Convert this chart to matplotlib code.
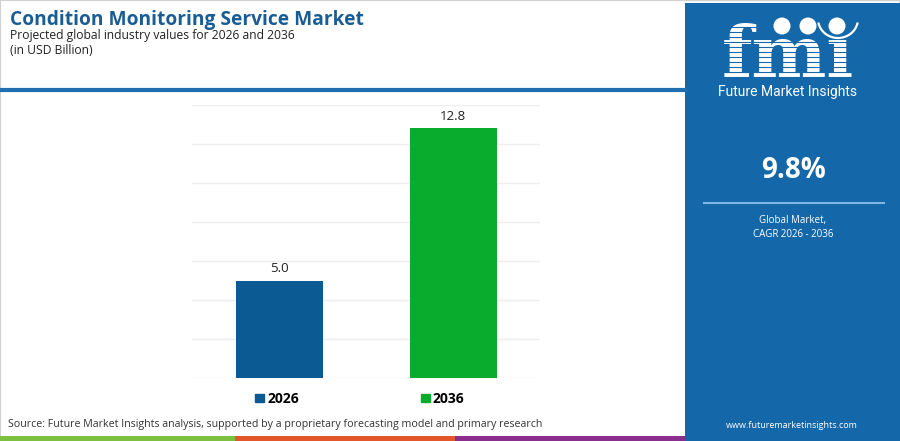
import matplotlib.pyplot as plt
from matplotlib.patches import Rectangle, Ellipse, Arc
from matplotlib.lines import Line2D

years = ["2026", "2036"]
values = [5.0, 12.8]
bar_colors = ["#0b5a94", "#0aac2e"]
title = "Condition Monitoring Service Market"
subtitle = "Projected global industry values for 2026 and 2036"
units = "(in USD Billion)"
cagr = "9.8%"
source = ("Source: Future Market Insights analysis, supported by a proprietary "
          "forecasting model and primary research")

W, H = 900, 441
PANEL = "#1467a8"

fig = plt.figure(figsize=(9, 4.41), dpi=100)
fig.patch.set_facecolor("white")


def px(x, y):
    # pixel coords (top-left origin) -> figure fraction
    return x / W, 1 - y / H


def hline(x0, x1, y, color, lw, z=2):
    fig.add_artist(Line2D([x0 / W, x1 / W], [1 - y / H] * 2,
                          transform=fig.transFigure, color=color,
                          linewidth=lw, zorder=z))


def box(x0, y0, x1, y1, color, z=1):
    fig.add_artist(Rectangle((x0 / W, 1 - y1 / H), (x1 - x0) / W, (y1 - y0) / H,
                             transform=fig.transFigure, color=color,
                             linewidth=0, zorder=z))


# frame
fig.add_artist(Rectangle((0, 0), 1, 1, transform=fig.transFigure, fill=False,
                         edgecolor="#d0d0d0", linewidth=1.5, zorder=0.5))

# header
fig.text(*px(10, 20), title, fontsize=13.8, fontweight="bold", color="#1a5c94",
         family="Open Sans", va="center", ha="left")
fig.text(*px(10, 35), subtitle, fontsize=8.7, color="#222222",
         family="Open Sans", va="center", ha="left")
fig.text(*px(10, 51), units, fontsize=8.7, color="#222222",
         family="Open Sans", va="center", ha="left")
hline(0, 685, 90, "#1f6eb0", 3)

# bottom stripes
box(0, 436, 235, 441, "#7dbf3f")
box(235, 436, 455, 441, "#e4572b")
box(455, 436, 685, 441, "#8b2f8e")
fig.text(*px(8, 425), source, fontsize=7.7, color="#333333",
         family="Open Sans", va="center", ha="left")

# right panel
box(685, 3, 900, 441, PANEL, z=1)

# logo: striped slab letters with three globes
fig.text(*px(787.5, 77), "fm\u0131", fontsize=51, fontweight="bold", color="white",
         family="DejaVu Serif", va="baseline", ha="center", zorder=3)
for i in range(11):
    hline(712, 862, 27 + i * 5.0, PANEL, 0.8, z=4)
for cx in (782, 808, 837):
    fig.add_artist(Ellipse(px(cx, 26), 17 / W, 17 / H, transform=fig.transFigure,
                           facecolor="white", edgecolor="none", zorder=5))
fig.add_artist(Arc(px(838, 19), 40 / W, 38 / H, theta1=200, theta2=340,
                   transform=fig.transFigure, color="white", linewidth=1.6,
                   zorder=5))
fig.text(*px(788, 92), "Future Market Insights", fontsize=10, color="white",
         family="Roboto", va="center", ha="center", zorder=3)

fig.text(*px(793, 171), cagr, fontsize=20, fontweight="bold", color="white",
         family="Open Sans", va="center", ha="center", zorder=3)
hline(704, 884, 203, "#7fb6e3", 1.5, z=3)
fig.text(*px(793, 221), "Global Market,", fontsize=7.0, color="white",
         family="Open Sans", va="center", ha="center", zorder=3)
fig.text(*px(793, 234), "CAGR 2026 - 2036", fontsize=7.0, color="white",
         family="Open Sans", va="center", ha="center", zorder=3)
fig.text(*px(792, 425), "www.futuremarketinsights.com", fontsize=6.5,
         color="white", family="Open Sans", va="center", ha="center", zorder=3)

# chart
ax = fig.add_axes([192 / W, 1 - 378 / H, 348 / W, 273 / H])
x = range(len(years))
bars = ax.bar(x, values, width=0.5, color=bar_colors, zorder=3)
ax.set_xlim(-0.5, 1.5)
ax.set_ylim(0, 14)
ax.set_yticks(range(0, 15, 2))
ax.grid(axis="y", color="#eeeeee", linewidth=1, zorder=0)
ax.tick_params(left=False, bottom=False, labelleft=False, labelbottom=False)
for s in ax.spines.values():
    s.set_visible(False)
for b, v in zip(bars, values):
    ax.annotate(f"{v:.1f}", (b.get_x() + b.get_width() / 2, v),
                xytext=(0, 4), textcoords="offset points", ha="center",
                va="bottom", fontsize=9.5, color="#222222", family="Open Sans")

handles = [Rectangle((0, 0), 1, 1, color=c) for c in bar_colors]
leg = ax.legend(handles, years, loc="upper center", bbox_to_anchor=(0.483, -0.005),
                ncol=2, frameon=False, handlelength=0.6, handleheight=0.6,
                handletextpad=0.25, columnspacing=8.8,
                prop={"family": "Open Sans", "weight": "bold", "size": 10})

fig.savefig("out.png", dpi=100, facecolor="white")
